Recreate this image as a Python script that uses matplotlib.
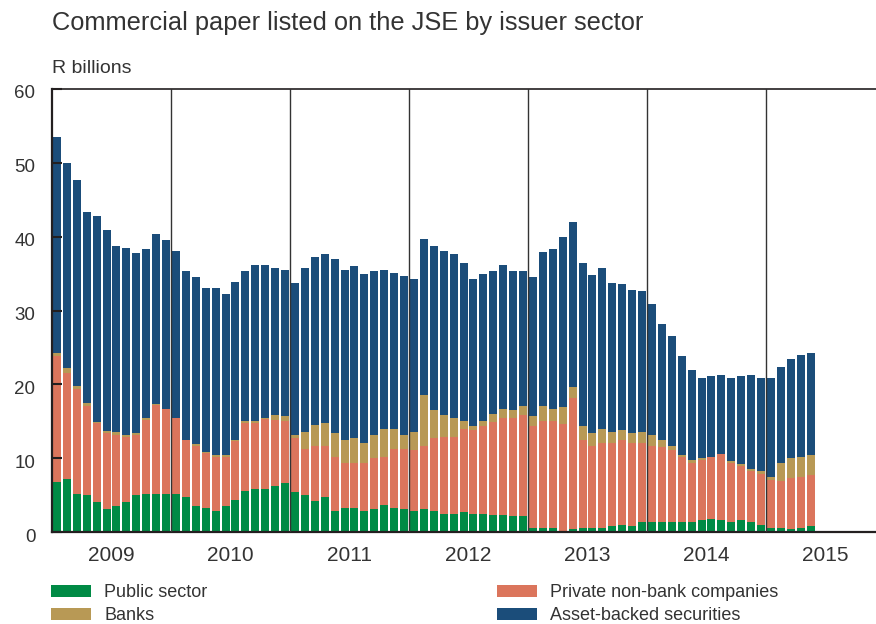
import numpy as np
import matplotlib.pyplot as plt
from matplotlib.patches import Rectangle
from matplotlib.transforms import ScaledTranslation

plt.rcParams['font.family'] = ['Liberation Sans', 'DejaVu Sans']

YEARS = ['2009', '2010', '2011', '2012', '2013', '2014', '2015']

# monthly values, Jan 2009 - May 2015, R billions
PUBLIC = [6.8, 7.2, 5.2, 5.0, 4.0, 3.1, 3.5, 4.0, 5.0, 5.1, 5.1, 5.1,
          5.1, 4.7, 3.5, 3.2, 2.8, 3.5, 4.4, 5.6, 5.8, 5.8, 6.2, 6.6,
          5.4, 5.0, 4.2, 4.7, 2.9, 3.3, 3.3, 2.8, 3.1, 3.6, 3.2, 3.1,
          2.8, 3.1, 2.9, 2.4, 2.5, 2.7, 2.5, 2.4, 2.3, 2.3, 2.1, 2.1,
          0.5, 0.5, 0.5, 0.2, 0.4, 0.5, 0.6, 0.6, 0.8, 0.9, 0.8, 1.3,
          1.3, 1.4, 1.3, 1.3, 1.3, 1.6, 1.7, 1.6, 1.4, 1.6, 1.3, 1.0,
          0.6, 0.5, 0.4, 0.6, 0.8]
PRIVATE = [17.1, 14.3, 14.2, 12.1, 10.7, 10.3, 9.7, 8.8, 8.1, 10.1, 12.1, 11.5,
           10.3, 7.7, 8.2, 7.5, 7.3, 6.6, 7.9, 9.1, 9.0, 9.5, 9.0, 8.4,
           7.3, 6.2, 7.4, 6.9, 7.2, 6.0, 6.1, 6.6, 6.9, 6.5, 8.1, 8.1,
           8.3, 8.5, 9.8, 10.4, 10.3, 11.2, 11.3, 12.0, 12.6, 13.2, 13.3, 13.8,
           13.8, 14.6, 14.6, 14.4, 17.8, 12.0, 11.1, 11.5, 11.2, 11.5, 11.2, 10.7,
           10.3, 10.1, 9.8, 8.9, 8.1, 8.2, 8.4, 8.9, 8.0, 7.4, 7.0, 6.8,
           6.4, 6.4, 6.9, 6.9, 6.9]
BANKS = [0.4, 0.7, 0.4, 0.4, 0.2, 0.3, 0.3, 0.3, 0.3, 0.2, 0.1, 0.1,
         0.1, 0.1, 0.2, 0.1, 0.3, 0.3, 0.2, 0.3, 0.3, 0.2, 0.6, 0.7,
         0.5, 2.4, 2.9, 3.1, 3.3, 3.1, 3.3, 2.7, 3.2, 3.9, 2.7, 2.0,
         2.5, 6.9, 3.8, 3.1, 2.7, 1.1, 0.5, 0.7, 1.1, 1.1, 1.1, 1.2,
         1.4, 2.0, 1.6, 2.3, 1.5, 1.8, 1.7, 1.9, 1.5, 1.4, 1.4, 1.5,
         1.5, 1.0, 0.5, 0.2, 0.3, 0.2, 0.1, 0.1, 0.2, 0.2, 0.2, 0.4,
         0.4, 2.4, 2.7, 2.7, 2.7]
ABS = [29.2, 27.8, 27.9, 25.9, 27.9, 27.2, 25.3, 25.3, 24.4, 22.9, 23.0, 22.9,
       22.6, 22.8, 22.6, 22.2, 22.6, 21.8, 21.4, 20.3, 21.1, 20.7, 19.9, 19.8,
       20.5, 22.2, 22.8, 22.9, 23.6, 23.1, 23.3, 22.8, 22.2, 21.5, 21.1, 21.5,
       20.7, 21.2, 22.3, 22.2, 22.1, 21.5, 20.0, 19.9, 19.4, 19.6, 18.8, 18.2,
       18.9, 20.8, 21.6, 23.0, 22.3, 22.2, 21.4, 21.8, 20.2, 19.8, 19.4, 19.2,
       17.8, 15.7, 15.0, 13.5, 12.3, 10.8, 10.9, 10.7, 11.3, 11.9, 12.7, 12.7,
       13.4, 13.1, 13.4, 13.8, 13.8]

SERIES = ['Public sector', 'Banks', 'Private non-bank companies', 'Asset-backed securities']
COLORS = ['#008a45', '#b89955', '#db755c', '#1b4d7a']
TXT = '#333333'

W, H = 876, 624
fig = plt.figure(figsize=(W / 100, H / 100), dpi=100)
ax = fig.add_axes([52 / W, (H - 532) / H, 1 - 52 / W, (532 - 89) / H])

x = np.arange(len(PUBLIC)) + 0.5
bottom = np.zeros(len(PUBLIC))
for vals, col in zip([PUBLIC, PRIVATE, BANKS, ABS], [COLORS[0], COLORS[2], COLORS[1], COLORS[3]]):
    ax.bar(x, vals, width=0.8, bottom=bottom, color=col, linewidth=0)
    bottom += np.array(vals)

month_px = 119.0
ax.set_xlim(0, (W - 52) / (month_px / 12))
ax.set_ylim(0, 60)

for i in range(1, len(YEARS)):
    ax.axvline(12 * i, color='#333333', lw=1.0, zorder=3)

ax.set_xticks([12 * i + 6 for i in range(len(YEARS))])
ax.set_xticklabels(YEARS, fontsize=15, color=TXT)
ax.tick_params(axis='x', length=0, pad=10)

ax.set_yticks(range(0, 61, 10))
ax.tick_params(axis='y', direction='in', length=7, width=1.5, color='#231f20',
               labelsize=13.5, labelcolor=TXT, pad=12)
off = ScaledTranslation(0, -3 / 100, fig.dpi_scale_trans)
for lbl in ax.get_yticklabels():
    lbl.set_transform(lbl.get_transform() + off)

for side, lw in [('left', 1.6), ('bottom', 1.6), ('top', 1.2)]:
    ax.spines[side].set_linewidth(lw)
    ax.spines[side].set_color('#231f20')
ax.spines['right'].set_visible(False)

fig.text(52 / W, 1 - 30 / H, 'Commercial paper listed on the JSE by issuer sector',
         fontsize=18.3, color=TXT, ha='left', va='baseline')
fig.text(52 / W, 1 - 73 / H, 'R billions', fontsize=14, color=TXT,
         ha='left', va='baseline')

# legend, two columns
leg_pos = [(51, 597), (51, 620), (497, 597), (497, 620)]
for name, col, (lx, ly) in zip(SERIES, COLORS, leg_pos):
    fig.add_artist(Rectangle((lx / W, 1 - ly / H), 40 / W, 12 / H,
                             transform=fig.transFigure, color=col, lw=0))
    fig.text((lx + 53) / W, 1 - ly / H, name, fontsize=13, color=TXT,
             ha='left', va='baseline')

fig.savefig('out.png', dpi=100)
